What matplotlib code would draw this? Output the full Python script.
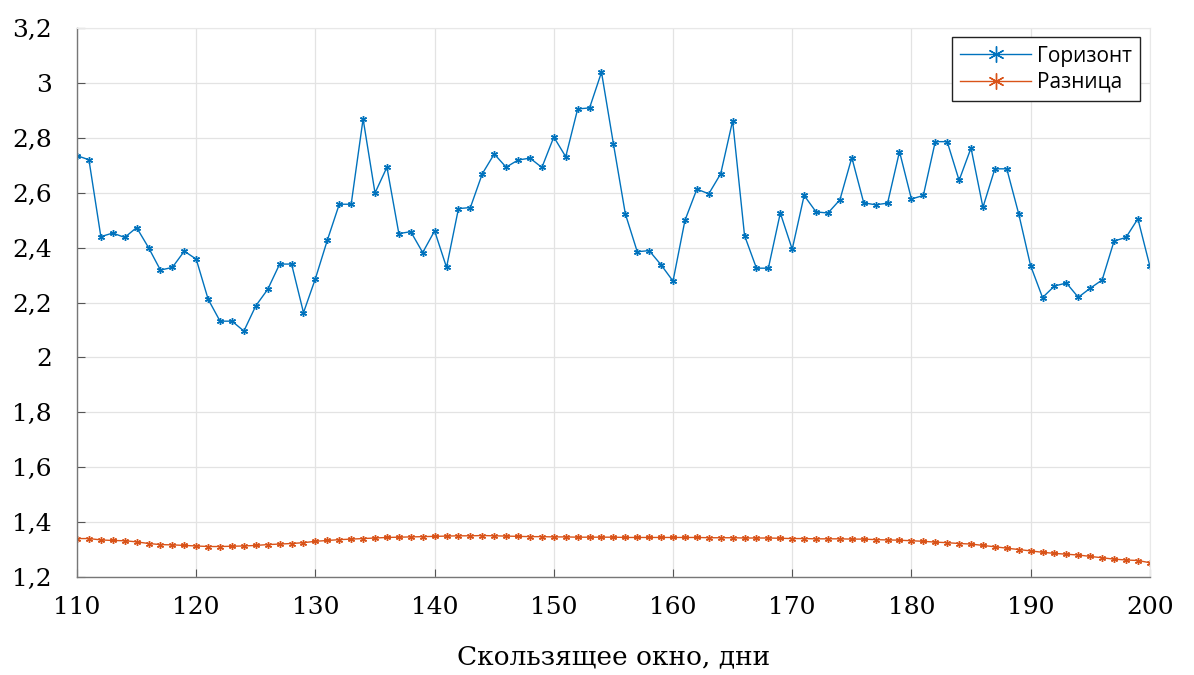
import matplotlib
matplotlib.use("Agg")
import matplotlib.pyplot as plt
from matplotlib.ticker import FuncFormatter

days = list(range(110, 201))

horizon = [2.735, 2.72, 2.44, 2.453, 2.437, 2.473, 2.40, 2.318, 2.328, 2.387,
           2.358, 2.212, 2.132, 2.132, 2.096, 2.188, 2.248, 2.34, 2.34, 2.163,
           2.287, 2.427, 2.558, 2.558, 2.869, 2.599, 2.693, 2.451, 2.458, 2.382,
           2.461, 2.328, 2.542, 2.546, 2.669, 2.741, 2.693, 2.719, 2.726, 2.692,
           2.803, 2.731, 2.905, 2.909, 3.039, 2.778, 2.523, 2.385, 2.389, 2.337,
           2.278, 2.499, 2.613, 2.596, 2.669, 2.862, 2.444, 2.325, 2.325, 2.526,
           2.394, 2.59, 2.53, 2.526, 2.574, 2.728, 2.563, 2.556, 2.562, 2.750,
           2.577, 2.59, 2.786, 2.786, 2.645, 2.763, 2.547, 2.687, 2.687, 2.523,
           2.334, 2.218, 2.26, 2.271, 2.219, 2.252, 2.282, 2.424, 2.437, 2.505,
           2.333]

difference = [1.340, 1.340, 1.335, 1.333, 1.332, 1.328, 1.322, 1.318, 1.317, 1.315,
              1.313, 1.311, 1.311, 1.312, 1.313, 1.315, 1.318, 1.320, 1.322, 1.325,
              1.330, 1.333, 1.336, 1.338, 1.340, 1.342, 1.344, 1.345, 1.346, 1.347,
              1.348, 1.349, 1.350, 1.350, 1.351, 1.350, 1.349, 1.348, 1.347, 1.347,
              1.346, 1.346, 1.345, 1.345, 1.345, 1.345, 1.344, 1.344, 1.344, 1.344,
              1.344, 1.344, 1.344, 1.343, 1.343, 1.343, 1.342, 1.342, 1.342, 1.341,
              1.340, 1.340, 1.339, 1.339, 1.339, 1.338, 1.338, 1.336, 1.335, 1.334,
              1.332, 1.330, 1.327, 1.325, 1.322, 1.320, 1.315, 1.310, 1.305, 1.300,
              1.295, 1.290, 1.286, 1.283, 1.280, 1.275, 1.270, 1.265, 1.262, 1.260,
              1.252]

xticks = [110, 120, 130, 140, 150, 160, 170, 180, 190, 200]
yticks = [1.2, 1.4, 1.6, 1.8, 2.0, 2.2, 2.4, 2.6, 2.8, 3.0, 3.2]
series_names = ["Горизонт", "Разница"]
xlabel = "Скользящее окно, дни"

fig = plt.figure(figsize=(11.94, 6.75), dpi=100)
ax = fig.add_axes([0.0645, 0.1452, 0.8985, 0.8133])

blue = "#0072BD"
orange = "#D95319"
asterisk = (6, 2, 0)
ax.plot(days, horizon, color=blue, lw=1.0, marker=asterisk, ms=5, mew=1.0,
        label=series_names[0])
ax.plot(days, difference, color=orange, lw=1.0, marker=asterisk, ms=5, mew=1.0,
        label=series_names[1])

ax.set_xlim(110, 200)
ax.set_ylim(1.2, 3.2)
ax.set_xticks(xticks)
ax.set_yticks(yticks)

def comma_fmt(v, pos):
    s = ("%.1f" % v).rstrip("0").rstrip(".")
    return s.replace(".", ",")

ax.yaxis.set_major_formatter(FuncFormatter(comma_fmt))
ax.grid(True, color="#e3e3e3", lw=0.9)
ax.set_axisbelow(True)

serif = ["DejaVu Serif"]
for lab in ax.get_xticklabels() + ax.get_yticklabels():
    lab.set_fontfamily(serif)
    lab.set_fontsize(18)
ax.tick_params(direction="in", length=6, width=0.8, color="#555555")
ax.tick_params(axis="y", pad=18)
ax.tick_params(axis="x", pad=14)

for side in ["left", "bottom"]:
    ax.spines[side].set_color("#777777")
    ax.spines[side].set_linewidth(1.0)
for side in ["top", "right"]:
    ax.spines[side].set_color("#e8e8e8")
    ax.spines[side].set_linewidth(0.8)

ax.set_xlabel(xlabel, fontfamily=serif, fontsize=19, labelpad=18)

leg = ax.legend(loc="upper right", prop={"family": "Open Sans", "size": 15},
                fancybox=False, framealpha=1, edgecolor="#222222",
                borderaxespad=0.45, handlelength=3.4, handletextpad=0.3,
                borderpad=0.4, labelspacing=0.25, markerscale=2.3)
leg.get_frame().set_linewidth(1.0)

fig.savefig("out.png", dpi=100, facecolor="white")
